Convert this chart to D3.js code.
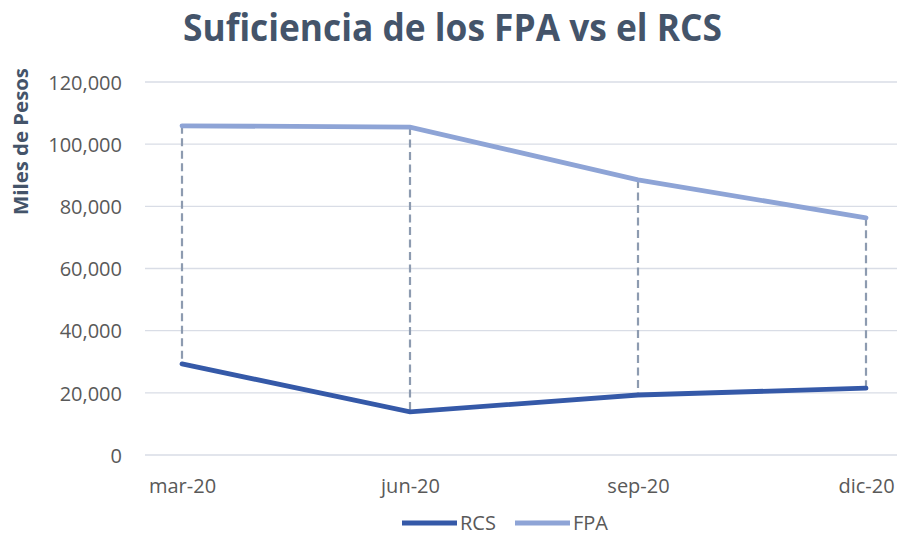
<!DOCTYPE html>
<html><head><meta charset="utf-8">
<script src="https://cdn.jsdelivr.net/npm/d3@7"></script>
<style>body{margin:0;background:#fff;} svg{display:block;}</style>
</head><body>
<svg id="c" width="901" height="535"></svg>
<script>
const categories = ["mar-20", "jun-20", "sep-20", "dic-20"];
const rcsValues = [29300, 13900, 19300, 21500];
const fpaValues = [105900, 105500, 88500, 76300];
const yTicks = [0, 20000, 40000, 60000, 80000, 100000, 120000];
const seriesNames = ["RCS", "FPA"];

const svg = d3.select("#c");
const font = "'Open Sans', 'DejaVu Sans', sans-serif";
const x = d3.scalePoint().domain(categories).range([182, 866]);
const y = d3.scaleLinear().domain([0, 120000]).range([455, 82]);
const colRCS = "#3559A8", colFPA = "#8EA4D6";
const fs = 20;

// title
svg.append("text").attr("x", 183).attr("y", 41).attr("text-anchor", "start")
  .attr("font-family", font).attr("font-weight", "bold").attr("font-size", 38)
  .attr("textLength", 539).attr("lengthAdjust", "spacingAndGlyphs")
  .attr("fill", "#44546A").text("Suficiencia de los FPA vs el RCS");

// gridlines
svg.append("g").selectAll("line").data(yTicks).join("line")
  .attr("x1", 145).attr("x2", 897).attr("y1", d => y(d)).attr("y2", d => y(d))
  .attr("stroke", "#D9DDE6").attr("stroke-width", 1.3);

// y axis
const yAxis = d3.axisLeft(y).tickValues(yTicks).tickSize(0).tickPadding(0)
  .tickFormat(d3.format(","));
const ya = svg.append("g").attr("transform", "translate(122,0)").call(yAxis);
ya.select(".domain").remove();
ya.selectAll("text").attr("font-family", font).attr("font-size", fs).attr("fill", "#595959").attr("dy", "0.36em");

// x axis
const xAxis = d3.axisBottom(x).tickSize(0).tickPadding(0);
const xa = svg.append("g").attr("transform", "translate(0,479)").call(xAxis);
xa.select(".domain").remove();
xa.selectAll("text").attr("font-family", font).attr("font-size", fs).attr("fill", "#595959").attr("dy", "0.71em");

// y title
svg.append("text").attr("transform", "translate(28,141.5) rotate(-90)").attr("text-anchor", "middle")
  .attr("font-family", font).attr("font-weight", "bold").attr("font-size", 20)
  .attr("textLength", 147).attr("lengthAdjust", "spacingAndGlyphs").attr("fill", "#44546A")
  .text("Miles de Pesos");

// high-low lines
svg.append("g").selectAll("line").data(categories).join("line")
  .attr("x1", d => x(d)).attr("x2", d => x(d))
  .attr("y1", (d, i) => y(fpaValues[i])).attr("y2", (d, i) => y(rcsValues[i]))
  .attr("stroke", "#8D9BB0").attr("stroke-width", 2.2).attr("stroke-dasharray", "8,4.5");

const line = d3.line().x((d, i) => x(categories[i])).y(d => y(d));
svg.append("path").datum(fpaValues).attr("d", line).attr("fill", "none")
  .attr("stroke", colFPA).attr("stroke-width", 4.8).attr("stroke-linecap", "round");
svg.append("path").datum(rcsValues).attr("d", line).attr("fill", "none")
  .attr("stroke", colRCS).attr("stroke-width", 4.8).attr("stroke-linecap", "round");

// legend
const leg = [{n: seriesNames[0], c: colRCS, x: 402}, {n: seriesNames[1], c: colFPA, x: 515}];
const lg = svg.append("g").selectAll("g").data(leg).join("g");
lg.append("line").attr("x1", d => d.x).attr("x2", d => d.x + 55).attr("y1", 523).attr("y2", 523)
  .attr("stroke", d => d.c).attr("stroke-width", 4.8);
lg.append("text").attr("x", d => d.x + 58).attr("y", 523).attr("dy", "0.36em")
  .attr("font-family", font).attr("font-size", fs).attr("fill", "#595959").text(d => d.n);
</script>
</body></html>
